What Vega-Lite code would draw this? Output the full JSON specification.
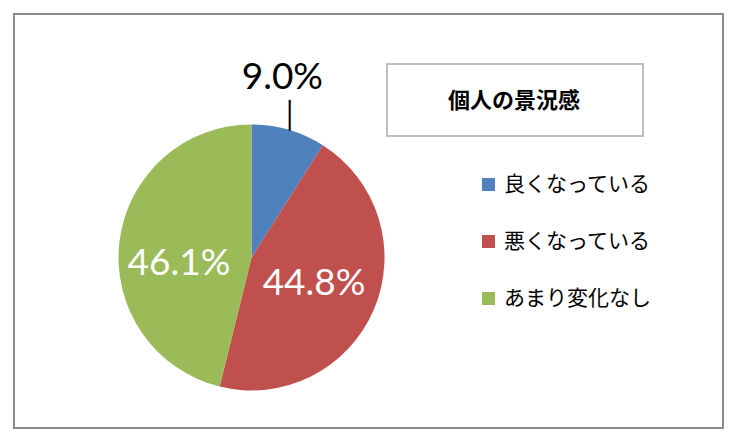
{
  "$schema": "https://vega.github.io/schema/vega-lite/v6.json",
  "autosize": {"type": "fit", "contains": "padding"},
  "width": 740,
  "height": 444,
  "padding": {"left": 14, "top": 14, "right": 17, "bottom": 16},
  "background": "white",
  "view": {"stroke": "#8c8c8c", "strokeWidth": 2},
  "data": {
    "values": [
      {"n": 1, "cat": "良くなっている", "pct": 0.090},
      {"n": 2, "cat": "悪くなっている", "pct": 0.448},
      {"n": 3, "cat": "あまり変化なし", "pct": 0.461}
    ]
  },
  "encoding": {
    "theta": {"field": "pct", "type": "quantitative", "stack": true},
    "order": {"field": "n", "type": "quantitative"}
  },
  "layer": [
    {
      "mark": {
        "type": "arc",
        "outerRadius": 133,
        "x": {"expr": "width * 0.335"},
        "y": {"expr": "height * 0.588"},
        "strokeWidth": 0
      },
      "encoding": {
        "color": {
          "field": "cat",
          "type": "nominal",
          "sort": ["良くなっている", "悪くなっている", "あまり変化なし"],
          "scale": {
            "domain": ["良くなっている", "悪くなっている", "あまり変化なし"],
            "range": ["#4F81BD", "#C0504D", "#9BBB59"]
          },
          "legend": {
            "title": null,
            "orient": "none",
            "legendX": 464,
            "legendY": 160,
            "symbolType": "square",
            "symbolSize": 169,
            "symbolStrokeWidth": 0,
            "rowPadding": 35,
            "labelOffset": 5,
            "labelFont": "Noto Sans CJK JP",
            "labelFontSize": 21,
            "labelColor": "#000000",
            "padding": 0
          }
        },
        "stroke": {
          "datum": 1,
          "type": "quantitative",
          "scale": {"domain": [0, 1], "range": ["#ffffff", "#ffffff"]},
          "legend": {
            "type": "gradient",
            "title": "個人の景況感",
            "orient": "none",
            "legendX": 373,
            "legendY": 50,
            "direction": "horizontal",
            "gradientLength": 208,
            "gradientThickness": 1,
            "gradientOpacity": 0,
            "gradientStrokeWidth": 0,
            "labels": false,
            "labelOpacity": 0,
            "labelExpr": "''",
            "values": [0],
            "titleOrient": "bottom",
            "titleAnchor": "middle",
            "titleAlign": "center",
            "titleFont": "Noto Sans CJK JP",
            "titleFontSize": 22,
            "titleFontWeight": "bold",
            "titleColor": "#000000",
            "titlePadding": -10,
            "padding": 24,
            "strokeColor": "#bfbfbf",
            "encode": {"title": {"update": {"dx": {"value": 11}}}}
          }
        }
      }
    },
    {
      "mark": {
        "type": "text",
        "radius": 68,
        "dx": -5,
        "dy": 15,
        "x": {"expr": "width * 0.335"},
        "y": {"expr": "height * 0.588"},
        "font": "Lato",
        "fontSize": 37,
        "color": "#ffffff",
        "baseline": "middle"
      },
      "encoding": {
        "detail": {"field": "cat", "type": "nominal"},
        "text": {
          "condition": {"test": "datum.n == 3", "field": "pct", "type": "quantitative", "format": ".1%"},
          "value": ""
        }
      }
    },
    {
      "mark": {
        "type": "text",
        "radius": 68,
        "x": {"expr": "width * 0.335"},
        "y": {"expr": "height * 0.588"},
        "font": "Lato",
        "fontSize": 37,
        "color": "#ffffff",
        "baseline": "middle"
      },
      "encoding": {
        "detail": {"field": "cat", "type": "nominal"},
        "text": {
          "condition": {"test": "datum.n == 2", "field": "pct", "type": "quantitative", "format": ".1%"},
          "value": ""
        }
      }
    },
    {
      "mark": {
        "type": "text",
        "radius": 182,
        "dx": -20,
        "dy": -5,
        "x": {"expr": "width * 0.335"},
        "y": {"expr": "height * 0.588"},
        "font": "Lato",
        "fontSize": 37,
        "color": "#000000",
        "baseline": "middle"
      },
      "encoding": {
        "detail": {"field": "cat", "type": "nominal"},
        "text": {
          "condition": {"test": "datum.n == 1", "field": "pct", "type": "quantitative", "format": ".1%"},
          "value": ""
        }
      }
    },
    {
      "mark": {
        "type": "text",
        "radius": 147,
        "dx": -3,
        "x": {"expr": "width * 0.335"},
        "y": {"expr": "height * 0.588"},
        "font": "DejaVu Sans",
        "fontSize": 26,
        "color": "#000000",
        "baseline": "middle"
      },
      "encoding": {
        "detail": {"field": "cat", "type": "nominal"},
        "text": {
          "condition": {"test": "datum.n == 1", "value": "│"},
          "value": ""
        }
      }
    }
  ],
  "config": {
    "view": {"stroke": "#8c8c8c", "strokeWidth": 2},
    "legend": {"strokeWidth": 2}
  }
}
